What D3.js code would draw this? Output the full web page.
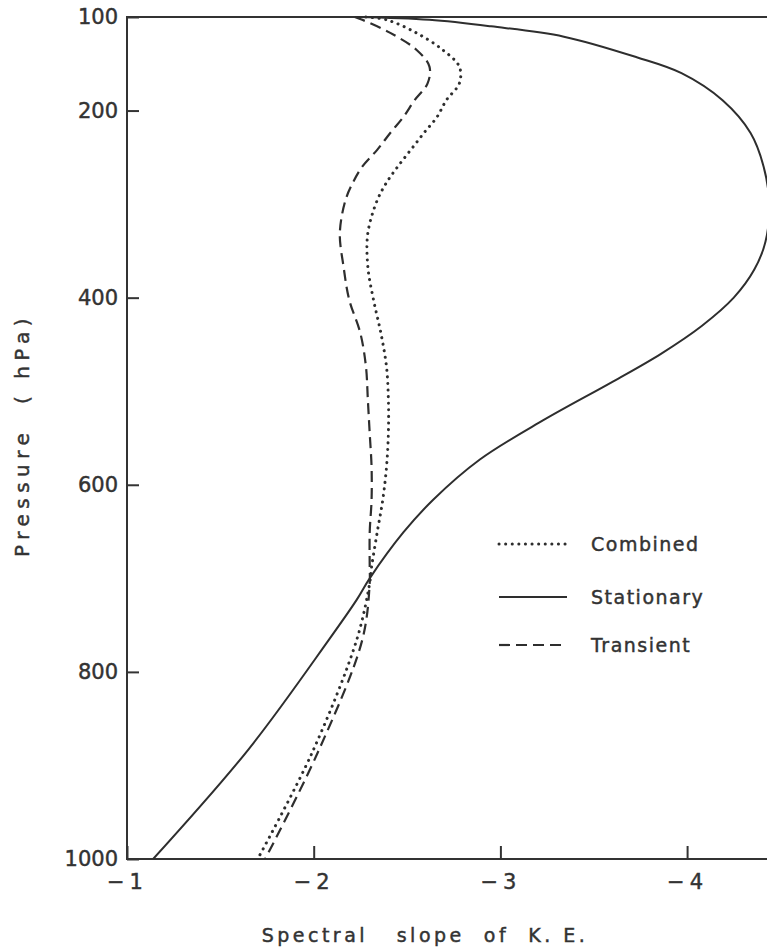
<!DOCTYPE html>
<html lang="en">
<head>
<meta charset="UTF-8">
<title>Spectral slope of K.E.</title>
<style>
  body { margin: 0; background: #fff; overflow: hidden; }
  svg { display: block; }
  text { font-family: "DejaVu Sans", sans-serif; fill: #333; stroke: #333; stroke-width: 0.45px; }
  .axis path, .axis line { stroke: #333; stroke-width: 2; }
  .axis text { font-size: 21px; fill: #333; }
</style>
</head>
<body>
<svg id="chart" width="767" height="947"></svg>
<script src="https://cdnjs.cloudflare.com/ajax/libs/d3/7.8.5/d3.min.js"></script>
<script>
// pressure levels (hPa) and spectral slopes
const statP = [100, 103, 110, 121, 143, 160, 189, 224, 260, 300, 340, 370, 400, 430, 460, 490, 531, 573, 616, 651, 700, 723, 766, 883, 1000];
const statS = [-2.23, -2.62, -2.95, -3.34, -3.73, -3.97, -4.19, -4.34, -4.41, -4.44, -4.42, -4.36, -4.25, -4.08, -3.86, -3.60, -3.23, -2.89, -2.64, -2.48, -2.30, -2.23, -2.08, -1.65, -1.14];

const tranP = [100, 103, 117, 135, 153, 171, 189, 207, 224, 242, 260, 277, 296, 331, 367, 402, 438, 474, 509, 545, 581, 616, 651, 688, 705, 766, 887, 1000];
const tranS = [-2.22, -2.26, -2.41, -2.55, -2.62, -2.61, -2.54, -2.48, -2.41, -2.34, -2.26, -2.21, -2.17, -2.14, -2.16, -2.19, -2.25, -2.28, -2.29, -2.30, -2.31, -2.31, -2.30, -2.30, -2.30, -2.26, -2.02, -1.74];

const combP = [100, 103, 117, 135, 153, 171, 189, 207, 224, 242, 260, 277, 296, 331, 367, 402, 438, 474, 509, 545, 581, 616, 651, 688, 705, 766, 887, 1000];
const combS = [-2.28, -2.39, -2.55, -2.69, -2.78, -2.78, -2.71, -2.66, -2.59, -2.52, -2.45, -2.39, -2.34, -2.29, -2.29, -2.32, -2.36, -2.39, -2.40, -2.40, -2.39, -2.37, -2.34, -2.31, -2.30, -2.23, -1.99, -1.70];

const xTicks = [-1, -2, -3, -4];
const yTicks = [100, 200, 400, 600, 800, 1000];
const legendNames = ["Combined", "Stationary", "Transient"];

const svg = d3.select("#chart");
const plotLeft = 127, plotRight = 767, plotTop = 17, plotBottom = 859;

const x = d3.scaleLinear().domain([-1, -4.428]).range([plotLeft, plotRight]);
const y = d3.scaleLinear().domain([100, 1000]).range([plotTop, plotBottom]);

// frame
svg.append("path")
  .attr("d", `M${plotRight + 5},${plotTop}H${plotLeft}V${plotBottom}H${plotRight + 5}`)
  .attr("fill", "none").attr("stroke", "#333").attr("stroke-width", 2);

svg.append("g").attr("class", "axis")
  .attr("transform", `translate(${plotLeft},0)`)
  .call(d3.axisLeft(y).tickValues(yTicks).tickSizeInner(-12).tickSizeOuter(0).tickPadding(9)
    .tickFormat(d3.format("d")))
  .call(g => g.select(".domain").remove());

svg.append("g").attr("class", "axis")
  .attr("transform", `translate(0,${plotBottom})`)
  .call(d3.axisBottom(x).tickValues(xTicks).tickSizeInner(-13).tickSizeOuter(0).tickPadding(15)
    .tickFormat(d => "\u2212" + Math.abs(d)))
  .call(g => g.select(".domain").remove())
  .call(g => g.selectAll("text").attr("letter-spacing", "5px"));

const line = d3.line()
  .x(d => x(d[1]))
  .y(d => y(d[0]))
  .curve(d3.curveCatmullRom.alpha(0.5));

const series = [
  { name: "Combined", p: combP, s: combS, dash: "0.1 6.5", width: 3, cap: "round" },
  { name: "Stationary", p: statP, s: statS, dash: null, width: 2, cap: "butt" },
  { name: "Transient", p: tranP, s: tranS, dash: "11 6", width: 2.2, cap: "butt" }
];

svg.append("clipPath").attr("id", "clip")
  .append("rect").attr("x", plotLeft).attr("y", plotTop - 2)
  .attr("width", plotRight - plotLeft).attr("height", plotBottom - plotTop + 2);

svg.append("g").attr("clip-path", "url(#clip)")
  .selectAll("path")
  .data(series)
  .join("path")
  .attr("d", d => line(d.p.map((p, i) => [p, d.s[i]])))
  .attr("fill", "none")
  .attr("stroke", "#2e2e2e")
  .attr("stroke-width", d => d.width)
  .attr("stroke-linecap", d => d.cap)
  .attr("stroke-dasharray", d => d.dash);

// legend
const legY = [544, 597, 645];
const leg = svg.append("g");
series.forEach((d, i) => {
  leg.append("line")
    .attr("x1", 499).attr("x2", 567).attr("y1", legY[i]).attr("y2", legY[i])
    .attr("stroke", "#2e2e2e")
    .attr("stroke-width", d.width)
    .attr("stroke-linecap", d.cap)
    .attr("stroke-dasharray", d.dash);
  leg.append("text")
    .attr("x", 591).attr("y", legY[i]).attr("dy", "0.36em")
    .attr("font-size", 19).attr("letter-spacing", "1.5px")
    .text(legendNames[i]);
});

// axis titles
svg.append("text")
  .attr("x", 425).attr("y", 935).attr("dy", "0.35em")
  .attr("text-anchor", "middle")
  .attr("font-size", 19).attr("letter-spacing", "3.5px")
  .style("white-space", "pre")
  .text("Spectral   slope  of  K. E.");

svg.append("text")
  .attr("transform", "translate(22,435) rotate(-90)")
  .attr("text-anchor", "middle").attr("dy", "0.35em")
  .attr("font-size", 20).attr("letter-spacing", "5.5px")
  .style("white-space", "pre")
  .text("Pressure  ( hPa)");
</script>
</body>
</html>
